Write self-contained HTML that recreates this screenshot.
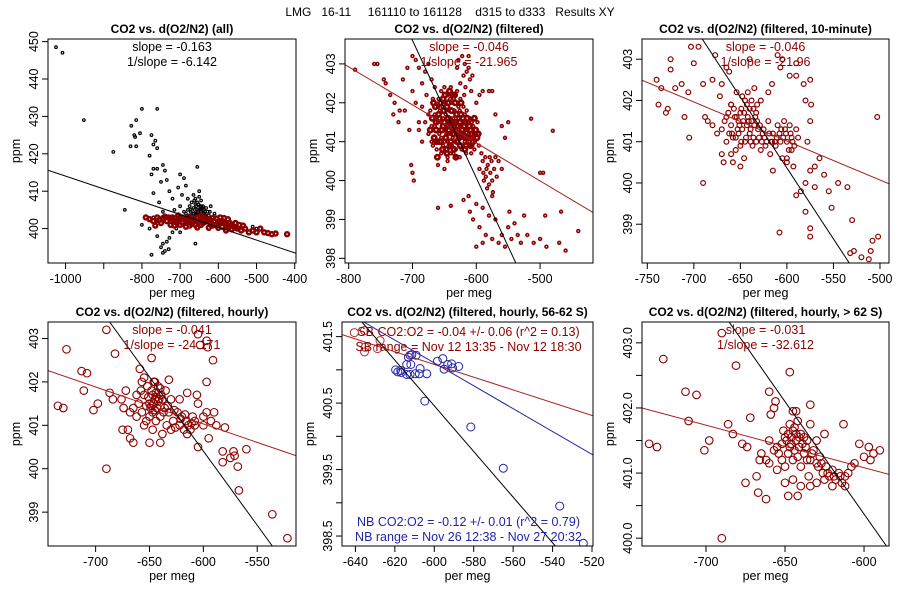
<!DOCTYPE html>
<html><head><meta charset="utf-8"><style>
html,body{margin:0;padding:0;background:#fff}
svg{display:block;font-family:"Liberation Sans",sans-serif}
</style></head><body>
<svg id="chart" width="900" height="600" viewBox="0 0 900 600" xmlns="http://www.w3.org/2000/svg">
<text x="450" y="16" font-size="12" text-anchor="middle" style="white-space:pre">LMG   16-11     161110 to 161128    d315 to d333   Results XY</text>
</svg>
<script>
// ---- data arrays ----
const p1Black = [[-1025,448.5],[-1008,447],[-952,429],[-875,420.5],[-845,405],[-830,422],[-828,427.5],[-815,429],[-818,424.5],[-820,425],[-815,422],[-805,425.5],[-800,432],[-760,432],[-775,425],[-770,422.5],[-765,423.5],[-760,421.5],[-780,419.5],[-775,414.5],[-770,416],[-760,416],[-745,417],[-740,415.5],[-750,412.5],[-735,413],[-728,410],[-770,409.5],[-755,407],[-745,404.5],[-715,405],[-700,414.5],[-690,413.5],[-705,411],[-695,409],[-685,411.5],[-680,408],[-700,406],[-720,408],[-655,416.5],[-640,406],[-620,406],[-610,404],[-650,410],[-660,408],[-670,407],[-665,404],[-680,405],[-690,404.5],[-800,401],[-780,400],[-760,398],[-745,396],[-740,394],[-735,396.5],[-730,394.5],[-728,397.5],[-750,395],[-775,393],[-745,393.5],[-660,396],[-720,399],[-700,399],[-710,400],[-620,402],[-580,401],[-550,400.5],[-510,400.5],[-500,400],[-770,403],[-760,402],[-780,402.5],
[-690,403],[-680,402],[-670,403.5],[-660,404],[-650,405],[-640,404],[-630,403],[-655,403],[-665,405.5],[-645,406],[-675,401.5],[-700,402],[-685,404],[-690,401],[-640,402],[-650,401.5],[-660,402],[-670,401],[-635,404.5],[-625,403.5],[-655,407],[-650,408.5],[-660,406.5],[-645,407.5],[-675,406],[-665,409],[-655,405],[-645,404.5],[-635,402.5],[-660,403],[-668,402.5],[-648,403],[-632,405.5],[-642,405.5],[-652,406.5],[-672,404.5],
[-662,405],[-657,404],[-652,403.5],[-647,405],[-642,403.5],[-637,404],[-667,403],[-677,403.5],[-682,403],[-687,402.5],[-658,406],[-648,406],[-638,405],[-628,404.5],[-653,404.5],[-663,407.5],[-673,405],[-643,405],[-633,403.5],[-622,404.5]];
const p1Red = [[-790,403],[-780,402.5],[-770,402],[-760,403],[-750,401.5],[-745,402.8],[-735,402],[-725,401],[-720,403],[-710,402],[-700,401],[-700,403],[-690,402.5],[-680,401.5],[-675,403],[-670,402],[-660,401],[-655,403],[-650,402],[-640,401.5],[-635,403],[-630,402],[-620,401],[-615,402.8],[-610,402],[-600,401.5],[-595,403],[-590,402],[-580,401],[-575,402.5],[-570,401.5],[-560,400.5],[-555,401.5],[-550,400],[-545,401],[-540,399.5],[-530,400],[-520,399],[-510,399.5],[-500,399],[-490,400],[-480,399],[-470,398.8],[-460,398.5],[-450,398.7],[-420,398.5],[-765,400.8],[-705,403.5],[-645,403.5],[-585,402.8],[-625,400.2],[-665,401.8],[-715,401.8],[-740,403.2],[-600,400.2],[-565,399.8],[-535,400.8],[-685,400.5],[-655,400.3],[-615,400.8],[-590,400.5],[-725,402.7],[-695,401.7],[-645,402.5],[-605,402.7],[-580,399.5],[-555,400.2],
[-705,402.2],[-695,403],[-685,402],[-665,402.8],[-660,402.2],[-645,401],[-635,401.8],[-625,402.5],[-605,401],[-595,401.8],[-585,401.6],[-575,400.6],[-565,401],[-620,402.2],[-640,402.8],[-680,403],[-730,403],[-755,402.3],[-715,400.8],[-675,400.8]];
const p2Red = [[-790,402.85],[-760,403.0],[-755,403.0],[-745,402.6],[-742,402.5],[-735,402.2],[-728,402.0],[-720,401.8],[-715,402.6],[-708,402.9],[-700,403.2],[-695,403.1],[-690,402.9],[-685,402.5],[-700,402.3],[-712,401.8],[-705,401.3],[-722,401.5],[-730,401.7],[-690,401.5],[-695,402.0],[-680,402.8],[-675,403.0],[-670,402.6],[-685,401.9],[-702,400.4],[-700,400.2],[-698,400.0],[-660,399.3],[-640,399.35],
[-680,401.5],[-675,401.2],[-672,401.8],[-670,401.0],[-668,402.1],[-665,401.4],[-662,400.8],[-660,401.9],[-658,401.2],[-655,402.3],[-655,400.7],[-652,401.6],[-650,401.0],[-648,402.0],[-646,401.4],[-645,400.6],[-643,401.8],[-640,401.2],[-640,402.4],[-638,400.9],[-636,401.6],[-635,402.1],[-633,401.0],[-630,401.4],[-630,400.6],[-628,401.9],[-625,401.2],[-623,400.8],[-620,401.5],[-618,401.0],[-615,401.3],[-612,400.9],[-610,401.6],[-608,401.1],[-605,401.4],[-603,400.8],[-600,401.2],[-598,401.5],[-596,400.9],[-660,400.4],[-650,400.3],[-645,400.5],[-685,401.0],[-690,401.3],[-678,402.2],[-665,402.4],[-650,402.4],[-645,402.2],[-638,402.0],[-630,402.3],[-625,402.1],[-620,401.9],[-615,401.8],[-665,401.7],[-660,401.5],[-655,401.1],[-650,401.3],[-645,401.0],[-642,401.5],[-638,401.3],[-634,401.8],[-628,401.6],[-624,401.4],[-618,401.7],[-612,401.2],[-607,401.5],[-602,401.0],[-670,401.4],[-675,401.7],[-657,401.8],[-648,401.7],[-640,400.7],[-632,400.8],[-626,400.6],[-616,400.7],[-608,400.7],[-655,401.5],[-640,401.6],[-632,401.2],[-622,401.1],[-660,401.0],[-668,400.9],
[-653,401.9],[-647,401.2],[-643,400.9],[-637,401.1],[-627,401.3],[-621,400.9],[-613,401.5],[-604,401.2],[-662,401.6],[-652,400.9],[-641,402.1],[-634,401.4],[-626,401.8],[-617,401.3],[-611,401.0],[-659,402.1],[-644,401.2],[-636,400.7],[-629,401.1],[-619,401.2],[-606,400.9],
[-628,403.1],[-622,403.2],[-618,403.0],[-615,402.8],[-612,402.9],[-610,402.6],[-620,402.7],[-625,402.5],[-617,402.4],[-608,402.3],[-630,402.9],[-612,403.2],[-606,402.7],[-619,402.2],[-595,402.2],[-590,402.3],[-600,402.0],[-580,402.3],[-575,402.3],
[-595,400.3],[-590,400.5],[-585,400.1],[-582,400.4],[-580,399.9],[-578,400.2],[-575,400.0],[-572,400.3],[-588,400.0],[-570,400.6],[-583,399.8],[-576,400.5],[-592,400.7],[-568,400.1],[-565,400.5],[-586,400.6],[-574,399.7],[-560,400.3],[-555,401.1],[-560,401.4],[-570,401.7],[-550,401.5],[-514,401.59],[-480,401.28],[-500,400.2],[-495,400.2],[-584,400.3],[-579,400.6],[-589,400.2],
[-620,399.5],[-610,399.2],[-605,399.0],[-600,399.4],[-595,398.8],[-590,399.3],[-585,398.6],[-580,399.1],[-575,398.5],[-570,399.0],[-565,398.4],[-560,398.6],[-555,398.3],[-550,398.8],[-545,398.5],[-540,398.9],[-535,398.6],[-530,398.4],[-520,398.6],[-510,398.4],[-500,398.5],[-490,398.3],[-470,398.4],[-460,398.2],[-440,398.7],[-600,398.3],[-590,398.4],[-575,399.6],[-612,399.6],[-548,399.2],[-525,399.1],[-492,399.1],[-467,399.2]];
const p2Core = [[-672,401.3],[-669,401.6],[-666,401.1],[-664,401.9],[-663,401.3],[-661,400.6],[-659,401.7],[-657,401.0],[-656,402.0],[-654,401.3],[-653,400.8],[-651,401.8],[-650,401.5],[-649,402.2],[-647,400.8],[-646,401.9],[-644,401.6],[-643,401.3],[-642,402.3],[-641,400.9],[-639,401.8],[-638,401.5],[-637,402.2],[-636,401.2],[-635,400.8],[-634,401.5],[-633,402.0],[-631,401.7],[-630,401.0],[-629,401.4],[-627,401.1],[-626,401.5],[-625,400.9],[-624,401.7],[-622,401.3],[-621,401.6],[-619,401.4],[-617,401.1],[-616,400.9],[-614,401.6],[-613,401.1],[-611,401.4],[-609,400.9],[-607,401.2],[-605,401.0],[-603,401.6],[-601,401.3],[-599,401.1],[-597,401.2],[-663,401.5],[-658,401.6],[-652,401.4],[-648,401.1],[-644,401.4],[-640,401.0],[-636,401.3],[-632,401.5],[-628,401.2],[-623,401.2],[-618,401.5],[-609,401.3],[-667,402.0],[-652,402.1],[-644,402.0],[-634,402.2],[-624,402.0],[-662,401.0],[-646,400.7],[-632,400.6],[-618,400.8]];
const p3Red = [[-740,402.5],[-738,401.9],[-735,402.3],[-730,401.7],[-728,401.8],[-725,403.0],[-725,402.75],[-720,402.3],[-713,402.4],[-710,401.6],[-706,402.2],[-705,401.1],[-703,403.3],[-700,402.9],[-695,403.3],[-690,402.4],[-685,401.5],[-688,401.6],[-680,402.5],[-677,403.1],[-672,402.1],[-670,402.4],[-665,402.8],[-662,402.7],[-660,401.9],[-690,400.0],[-670,400.7],[-668,400.5],[-658,400.5],[-650,400.4],[-640,403.0],[-635,402.3],[-628,402.0],[-620,402.2],[-616,402.4],[-610,403.1],[-605,403.0],[-607,402.8],[-597,402.6],[-590,402.9],[-590,402.6],[-582,402.4],[-575,402.5],[-574,401.9],[-580,402.0],[-575,401.5],[-578,401.0],[-565,400.6],[-570,400.4],[-575,400.3],[-580,400.0],[-570,399.9],[-560,400.2],[-555,399.8],[-552,399.4],[-545,400.0],[-535,399.9],[-530,399.1],[-575,398.9],[-580,399.3],[-585,399.8],[-590,399.7],[-608,398.8],[-575,398.7],[-532,398.3],[-528,398.35],[-520,398.2],[-510,398.35],[-502,398.7],[-508,398.6],[-512,398.15],[-503,401.6],[-615,400.3],[-600,400.6],[-593,400.4],[-595,400.8],[-600,400.5],
[-670,401.3],[-665,401.0],[-665,401.6],[-660,401.4],[-657,401.8],[-655,401.1],[-652,401.5],[-650,400.9],[-650,401.7],[-648,401.3],[-645,402.0],[-645,401.0],[-642,401.6],[-640,401.2],[-640,401.8],[-637,400.9],[-635,401.4],[-633,401.7],[-630,401.1],[-628,400.8],[-625,401.3],[-622,401.0],[-620,401.5],[-618,400.7],[-615,401.2],[-612,400.9],[-610,401.4],[-607,401.0],[-605,400.6],[-602,401.3],[-600,401.0],[-597,401.4],[-595,401.1],[-592,400.9],[-590,401.3],[-660,401.9],[-655,400.8],[-648,402.1],[-638,402.0],[-632,401.9],[-660,400.7],[-646,400.6],[-675,401.2],[-680,401.4],[-662,401.2],[-652,401.2],[-643,401.4],[-636,401.1],[-627,401.0],[-613,401.0],[-608,401.2],[-598,400.8],[-603,401.5],[-656,401.6],[-647,401.5],[-641,401.5],[-634,401.6],[-653,401.3],[-644,401.1],[-638,401.5],[-631,401.3],[-624,401.1],[-617,401.0],[-658,401.1],[-649,401.8],[-639,401.0],[-604,401.1],[-596,401.2],
[-667,401.5],[-663,401.7],[-659,401.2],[-654,401.6],[-651,401.4],[-646,401.7],[-643,401.9],[-639,401.3],[-636,401.8],[-632,401.5],[-629,401.4],[-626,401.2],[-623,400.9],[-619,401.2],[-616,401.0],[-611,401.1],[-606,401.3],[-601,401.2],[-594,401.0],[-588,401.1],[-654,402.2],[-642,402.2],[-649,401.0],[-633,401.0]];
const p4Red = [[-735,401.45],[-730,401.4],[-727,402.75],[-713,402.25],[-711,401.8],[-708,402.2],[-702,401.35],[-698,401.5],[-690,403.2],[-690,400.0],[-687,401.75],[-684,401.6],[-682,402.65],[-676,401.6],[-674,401.4],[-672,401.8],[-670,400.9],[-668,400.7],[-665,400.6],[-675,400.9],[-659,402.3],[-657,402.0],[-655,402.1],[-648,402.55],[-645,402.0],[-640,401.85],[-632,402.05],[-622,401.6],[-615,401.75],[-606,401.7],[-605,401.5],[-600,401.2],[-605,403.1],[-597,402.95],[-596,402.8],[-603,402.85],[-597,402.0],[-591,402.5],[-590,401.3],[-588,401.0],[-580,400.95],[-582,400.4],[-582,400.15],[-575,400.25],[-572,400.4],[-571,400.3],[-568,400.05],[-567,399.5],[-560,400.45],[-536,398.95],[-522,398.4],[-595,400.7],[-605,400.5],[-608,401.1],[-650,400.6],[-647,400.9],[-640,400.6],[-638,400.8],[-630,400.9],[-615,400.8],
[-665,401.4],[-662,401.2],[-660,401.5],[-657,401.3],[-655,401.7],[-653,401.1],[-650,401.5],[-648,401.8],[-647,401.3],[-645,401.6],[-643,401.4],[-642,401.9],[-640,401.2],[-638,401.6],[-636,401.4],[-634,401.0],[-632,401.3],[-630,401.6],[-628,401.1],[-626,400.95],[-624,401.3],[-622,401.0],[-620,401.2],[-618,400.9],[-616,401.1],[-614,401.0],[-612,400.9],[-610,401.2],[-608,401.0],[-600,401.0],[-597,401.3],[-593,401.1],[-652,401.9],[-646,402.0],[-650,401.2],[-644,401.1],[-658,401.8],[-668,401.3],[-662,401.7],[-655,401.0],[-639,401.7],[-635,401.8],[-646,401.5],[-641,401.6],[-649,401.4],[-644,401.75],[-637,401.3],
[-651,401.65],[-648,401.45],[-645,401.35],[-642,401.55],[-647,401.7],[-643,401.65],[-653,401.45],[-640,401.45],[-633,401.45],[-627,401.35],[-621,401.15],[-617,401.25],[-611,401.05]];
const p5SB = [[-640.5,401.56],[-635.4,401.59],[-635.1,401.34],[-635.4,401.27],[-628.8,401.32],[-627.5,401.44]];
const p5NB = [[-619.6,401.0],[-618.5,400.97],[-616.8,400.96],[-617.0,400.99],[-614.0,400.93],[-612.3,400.93],[-614.0,401.08],[-613.1,401.19],[-612.3,401.22],[-611.4,401.23],[-609.2,401.22],[-611.9,401.08],[-609.7,400.94],[-607.6,400.94],[-607.2,401.02],[-603.8,400.94],[-604.8,400.53],[-598.4,401.13],[-595.7,401.17],[-595.0,401.01],[-593.2,401.08],[-591.2,401.09],[-590.7,401.03],[-587.6,401.05],[-581.5,400.14],[-565.0,399.52],[-536.4,398.95],[-524.4,398.39]];
const p6Red = [[-736,401.45],[-731,401.4],[-727,402.75],[-713,402.25],[-711,401.8],[-706,402.2],[-701,401.35],[-698,401.5],[-690,403.15],[-690,400.0],[-686,401.75],[-683,401.6],[-681,402.65],[-677,401.45],[-675,400.85],[-672,401.85],[-668,400.95],[-667,400.7],[-662,400.6],[-674,401.4],[-660,402.25],[-657,402.0],[-659,401.9],[-656,402.1],[-647,402.55],[-645,401.95],[-643,401.95],[-634,402.05],[-634,401.75],[-625,401.6],[-613,401.75],[-603,401.45],[-597,401.4],[-590,401.35],[-596,401.2],[-600,401.25],[-594,401.3],[-650,400.85],[-645,400.9],[-642,400.65],[-648,400.65],[-640,400.8],[-634,400.8],
[-665,401.3],[-662,401.2],[-660,401.5],[-657,401.35],[-655,401.4],[-652,401.2],[-650,401.55],[-648,401.6],[-646,401.45],[-645,401.65],[-643,401.5],[-641,401.4],[-640,401.6],[-638,401.3],[-636,401.5],[-634,401.2],[-632,401.35],[-630,401.15],[-628,401.25],[-626,401.0],[-624,401.1],[-622,400.95],[-620,401.05],[-618,400.9],[-616,401.0],[-614,400.85],[-612,400.95],[-610,401.0],[-608,401.1],[-606,401.15],[-650,401.1],[-655,401.05],[-660,401.15],[-645,401.2],[-640,401.1],[-635,400.95],[-630,400.85],[-625,400.9],[-647,401.75],[-642,401.8],[-638,401.55],[-644,401.35],[-630,401.5],[-652,401.45],[-666,401.2],[-620,400.8],[-612,400.8],[-649,401.5],[-643,401.6],[-639,401.45],[-646,401.55],
[-651,401.65],[-647,401.4],[-644,401.7],[-641,401.55],[-637,401.4],[-633,401.3],[-629,401.1],[-627,401.15],[-623,401.0],[-619,400.95],[-615,400.95],[-648,401.3],[-654,401.3],[-636,401.2],[-642,401.25]];
// fit lines: [x1,y1,x2,y2] in data units
const p1Line = [-1046,415.6,-396.6,393.4];
const p2LineRed = [-805.8,402.98,-417,399.18];
const p2LineBlack = [-701,403.64,-538,397.88];
const p3LineRed = [-755.7,402.49,-490.3,399.98];
const p3LineBlack = [-691,403.49,-533,398.06];
const p4LineRed = [-744.2,402.26,-514,400.3];
const p4LineBlack = [-687,403.38,-536,398.22];
const p5LineRed = [-646.8,401.53,-519.5,400.31];
const p5LineBlue = [-635.8,401.72,-519.5,399.72];
const p5LineBlack = [-636.7,401.72,-538.6,398.35];
const p6LineRed = [-740.5,402.0,-584.2,400.98];
const p6LineBlack = [-685.4,403.32,-585.8,399.88];
// ticks
const p1XTicks = [-1000,-900,-800,-700,-600,-500,-400];
const p1XLabels = ["-1000","","-800","-700","-600","-500","-400"];
const p1YTicks = [400,410,420,430,440,450];
const p2XTicks = [-800,-700,-600,-500];
const p2YTicks = [398,399,400,401,402,403];
const p3XTicks = [-750,-700,-650,-600,-550,-500];
const p3YTicks = [399,400,401,402,403];
const p4XTicks = [-700,-650,-600,-550];
const p4YTicks = [399,400,401,402,403];
const p5XTicks = [-640,-620,-600,-580,-560,-540,-520];
const p5YTicks = [398.5,399,399.5,400,400.5,401,401.5];
const p5YLabels = ["398.5","","399.5","","400.5","","401.5"];
const p6XTicks = [-700,-650,-600];
const p6YTicks = [400,400.5,401,401.5,402,402.5,403];
const p6YLabels = ["400.0","","401.0","","402.0","","403.0"];

const NS = "http://www.w3.org/2000/svg";
const svg = document.getElementById('chart');
const RED = "#8b0000", LRED = "#a52020", BLUE = "#2424a8";
function mk(tag, attrs, parent){ const e=document.createElementNS(NS,tag); for(const k in attrs) e.setAttribute(k,attrs[k]); (parent||svg).appendChild(e); return e; }

function panel(cfg){
  const g = mk('g',{});
  
  
  const [bx,by,bw,bh] = cfg.box;
  const sx = v => bx + (v-cfg.xr[0])/(cfg.xr[1]-cfg.xr[0])*bw;
  const sy = v => by + bh - (v-cfg.yr[0])/(cfg.yr[1]-cfg.yr[0])*bh;
  const clipId = 'c'+cfg.name;
  const cp = mk('clipPath',{id:clipId},g); mk('rect',{x:bx,y:by,width:bw,height:bh},cp);
  const plot = mk('g',{'clip-path':'url(#'+clipId+')'},g);
  
  
  cfg.series.forEach(s=>{
    const sg = mk('g',{fill:'none',stroke:s.color,'stroke-width':s.sw||1},plot);
    
    
    s.data.forEach(p=>{
      const c = mk('circle',{cx:sx(p[0]).toFixed(1),cy:sy(p[1]).toFixed(1),r:s.r},sg);
      
      
    });
  });
  cfg.lines.forEach(l=>{
    const ln = mk('line',{x1:sx(l.d[0]),y1:sy(l.d[1]),x2:sx(l.d[2]),y2:sy(l.d[3]),stroke:l.color,'stroke-width':1},plot);
    
    
  });
  const box = mk('rect',{x:bx,y:by,width:bw,height:bh,fill:'none',stroke:'#000','stroke-width':1},g);
  
  
  const xa = mk('g',{},g);
  
  
  cfg.xt.forEach((t,i)=>{
    const x = sx(t);
    mk('line',{x1:x,y1:by+bh,x2:x,y2:by+bh+6,stroke:'#000'},xa);
    const lab = cfg.xl ? cfg.xl[i] : String(t);
    if(lab){ const tx = mk('text',{x:x,y:by+bh+20,'font-size':12.5,'text-anchor':'middle'},xa); tx.textContent = lab;
        }
  });
  const ya = mk('g',{},g);
  
  
  cfg.yt.forEach((t,i)=>{
    const y = sy(t);
    mk('line',{x1:bx-6,y1:y,x2:bx,y2:y,stroke:'#000'},ya);
    const lab = cfg.yl ? cfg.yl[i] : String(t);
    if(lab){ const tx = mk('text',{x:bx-10,y:y,'font-size':12.5,'text-anchor':'middle',transform:`rotate(-90 ${bx-10} ${y})`},ya); tx.textContent = lab;
        }
  });
  const t = mk('text',{x:bx+bw/2,y:by-6,'font-size':12,'font-weight':'bold','text-anchor':'middle'},g);
  t.textContent = cfg.title;
  
  
  const xl = mk('text',{x:bx+bw/2,y:by+bh+34,'font-size':12.5,'text-anchor':'middle'},g);
  xl.textContent = 'per meg';
  
  
  const yx = bx-28, yy = by+bh/2;
  const yl = mk('text',{x:yx,y:yy,'font-size':12.5,'text-anchor':'middle',transform:`rotate(-90 ${yx} ${yy})`},g);
  yl.textContent = 'ppm';
  
  
  cfg.notes.forEach(n=>{
    const e = mk('text',{x:bx+bw/2+(n.dx||0),y:by+n.dy,'font-size':12.5,'text-anchor':'middle',fill:n.color},g);
    e.textContent = n.text;
    
    
  });
}

panel({name:'panel-all',box:[48,39,248,224],xr:[-1046,-396.6],yr:[390.8,450.7],xt:p1XTicks,xl:p1XLabels,yt:p1YTicks,
  title:'CO2 vs. d(O2/N2) (all)',
  series:[{name:'all-points',data:p1Black,color:'#000',r:1.3,sw:1.2},{name:'filtered-points',data:p1Red,color:RED,r:2,sw:2.4}],
  lines:[{name:'fit-line',d:p1Line,color:'#000'}],
  notes:[{text:'slope = -0.163',dy:12,color:'#000'},{text:'1/slope = -6.142',dy:27,color:'#000'}]});
panel({name:'panel-filtered',box:[345,39,248,224],xr:[-805.8,-417],yr:[397.88,403.64],xt:p2XTicks,yt:p2YTicks,
  title:'CO2 vs. d(O2/N2) (filtered)',
  series:[{name:'filtered-points',data:p2Red,color:RED,r:1.4,sw:1.6},{name:'filtered-core-points',data:p2Core,color:RED,r:2.2,sw:2.6}],
  lines:[{name:'fit-line',d:p2LineRed,color:LRED},{name:'inverse-fit-line',d:p2LineBlack,color:'#000'}],
  notes:[{text:'slope = -0.046',dy:12,color:RED,dx:0},{text:'1/slope = -21.965',dy:27,color:RED,dx:0}]});
panel({name:'panel-10min',box:[642,39,247,224],xr:[-755.7,-490.3],yr:[398.06,403.49],xt:p3XTicks,yt:p3YTicks,
  title:'CO2 vs. d(O2/N2) (filtered, 10-minute)',
  series:[{name:'ten-minute-points',data:p3Red,color:RED,r:2.4,sw:1.2}],
  lines:[{name:'fit-line',d:p3LineRed,color:LRED},{name:'inverse-fit-line',d:p3LineBlack,color:'#000'}],
  notes:[{text:'slope = -0.046',dy:12,color:RED},{text:'1/slope = -21.96',dy:27,color:RED}]});
panel({name:'panel-hourly',box:[48,322,248,224],xr:[-744.2,-514],yr:[398.22,403.38],xt:p4XTicks,yt:p4YTicks,
  title:'CO2 vs. d(O2/N2) (filtered, hourly)',
  series:[{name:'hourly-points',data:p4Red,color:RED,r:3.8,sw:1.1}],
  lines:[{name:'fit-line',d:p4LineRed,color:LRED},{name:'inverse-fit-line',d:p4LineBlack,color:'#000'}],
  notes:[{text:'slope = -0.041',dy:12,color:RED},{text:'1/slope = -24.171',dy:27,color:RED}]});
panel({name:'panel-56-62s',box:[342,322,251,224],xr:[-646.8,-519.5],yr:[398.35,401.72],xt:p5XTicks,yt:p5YTicks,yl:p5YLabels,
  title:'CO2 vs. d(O2/N2) (filtered, hourly, 56-62 S)',
  series:[{name:'sb-points',data:p5SB,color:'#b03030',r:4},{name:'nb-points',data:p5NB,color:BLUE,r:4}],
  lines:[{name:'sb-fit-line',d:p5LineRed,color:LRED},{name:'nb-fit-line',d:p5LineBlue,color:BLUE},{name:'reference-line',d:p5LineBlack,color:'#000'}],
  notes:[{text:'SB CO2:O2 = -0.04 +/- 0.06 (r^2 = 0.13)',dy:14,color:RED,dx:1},{text:'SB range = Nov 12 13:35 - Nov 12 18:30',dy:29,color:RED,dx:1},
         {text:'NB CO2:O2 = -0.12 +/- 0.01 (r^2 = 0.79)',dy:204,color:BLUE,dx:1},{text:'NB range = Nov 26 12:38 - Nov 27 20:32',dy:219,color:BLUE,dx:1}]});
panel({name:'panel-gt62s',box:[642,322,247,224],xr:[-740.5,-584.2],yr:[399.88,403.32],xt:p6XTicks,yt:p6YTicks,yl:p6YLabels,
  title:'CO2 vs. d(O2/N2) (filtered, hourly, > 62 S)',
  series:[{name:'hourly-points',data:p6Red,color:RED,r:3.8,sw:1.1}],
  lines:[{name:'fit-line',d:p6LineRed,color:LRED},{name:'inverse-fit-line',d:p6LineBlack,color:'#000'}],
  notes:[{text:'slope = -0.031',dy:12,color:RED},{text:'1/slope = -32.612',dy:27,color:RED}]});
</script>
</body></html>
